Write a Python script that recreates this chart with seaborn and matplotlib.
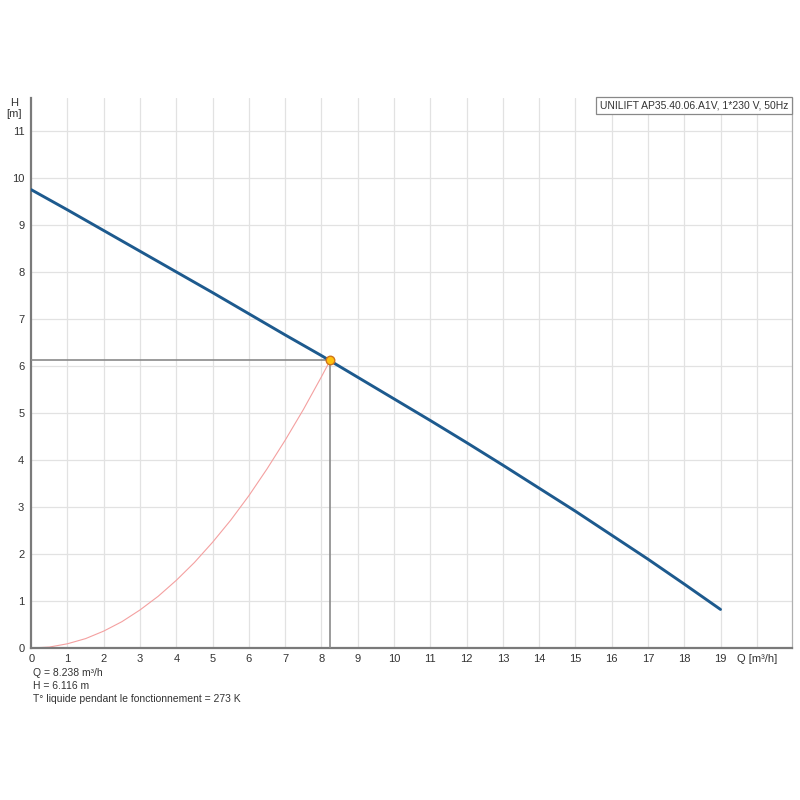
import matplotlib
matplotlib.use("Agg")
import matplotlib.pyplot as plt
import seaborn as sns
import pandas as pd

# Pump curve (Q in m3/h, H in m)
pump_q = [0, 1, 2, 3, 4, 5, 6, 7, 8, 9, 10, 11, 12, 13, 14, 15, 16, 17, 18, 19]
pump_h = [9.75, 9.32, 8.88, 8.44, 8.00, 7.56, 7.11, 6.66, 6.22, 5.76, 5.30, 4.84, 4.37, 3.89, 3.40, 2.91, 2.40, 1.89, 1.36, 0.82]

# System curve
sys_q = [0, 0.5, 1, 1.5, 2, 2.5, 3, 3.5, 4, 4.5, 5, 5.5, 6, 6.5, 7, 7.5, 8, 8.238]
sys_h = [0, 0.02, 0.09, 0.20, 0.36, 0.56, 0.81, 1.10, 1.44, 1.82, 2.25, 2.72, 3.24, 3.81, 4.42, 5.07, 5.77, 6.116]

duty_q = 8.238
duty_h = 6.116

x_ticks = list(range(0, 20))
y_ticks = list(range(0, 12))
legend_text = "UNILIFT AP35.40.06.A1V, 1*230 V, 50Hz"
info_lines = ["Q = 8.238 m³/h", "H = 6.116 m", "T° liquide pendant le fonctionnement = 273 K"]

sns.set_style("white")
plt.rcParams['font.family'] = ['Liberation Sans', 'DejaVu Sans']

fig = plt.figure(figsize=(8, 8), dpi=100)
ax = fig.add_axes([0.039, 0.19, 0.951, 0.6875])

pump_df = pd.DataFrame({"Q": pump_q, "H": pump_h})
sys_df = pd.DataFrame({"Q": sys_q, "H": sys_h})

# grid
for v in range(1, 21):
    ax.axvline(v, color="#e2e2e2", lw=0.9, zorder=0)
for v in range(1, 12):
    ax.axhline(v, color="#e2e2e2", lw=0.9, zorder=0)

sns.lineplot(data=sys_df, x="Q", y="H", ax=ax, color="#f4a0a0", lw=0.8, sort=False, zorder=2)
ax.plot([0, duty_q], [duty_h, duty_h], color="#8a8a8a", lw=1.2, zorder=3)
ax.plot([duty_q, duty_q], [0, duty_h], color="#8a8a8a", lw=1.2, zorder=3)
sns.lineplot(data=pump_df, x="Q", y="H", ax=ax, color="#1d5a8e", lw=2.1, sort=False, zorder=4)
ax.scatter([duty_q], [duty_h], s=38, color="#ffc20e", edgecolor="#d0741a", linewidth=1.0, zorder=5)

ax.set_xlim(0, 20.97)
ax.set_ylim(0, 11.7)
ax.set_xticks(x_ticks + [20])
ax.set_xticklabels([str(t) for t in x_ticks] + ["Q [m³/h]"])
ax.set_yticks(y_ticks)
ax.set_yticklabels([str(t) for t in y_ticks])
ax.tick_params(axis="both", labelsize=8, colors="#333333", length=3, width=1, direction="out")
ax.tick_params(axis="x", pad=1.5)
ax.tick_params(axis="y", pad=2)
ax.set_xlabel("")
ax.set_ylabel("")

for s in ["left", "bottom"]:
    ax.spines[s].set_color("#7a7a7a")
    ax.spines[s].set_linewidth(1.6)
ax.spines["top"].set_visible(False)
ax.spines["right"].set_color("#b0b0b0")
ax.spines["right"].set_linewidth(0.9)

ax.text(-0.012, 1.0, "H\n[m]", transform=ax.transAxes, ha="right", va="top",
        fontsize=8, color="#333333", linespacing=1.1, multialignment="center")

ax.text(0.995, 0.995, legend_text, transform=ax.transAxes, ha="right", va="top",
        fontsize=7.5, color="#333333",
        bbox=dict(boxstyle="square,pad=0.35", fc="white", ec="#888888", lw=0.9))

for i, line in enumerate(info_lines):
    fig.text(0.041, 0.159 - i * 0.0165, line, fontsize=7.5, color="#333333", va="center", ha="left")

fig.savefig("out.png", dpi=100, facecolor="white")
